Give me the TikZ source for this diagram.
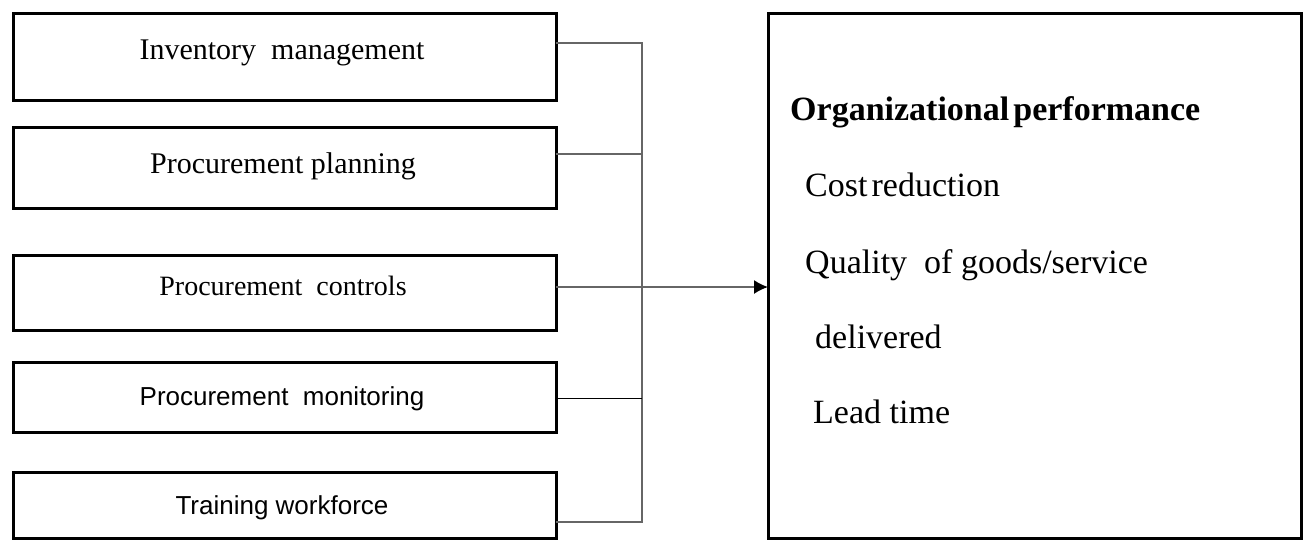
\documentclass[tikz,border=0pt]{standalone}
\usepackage{fontspec}
\setmainfont{Liberation Serif}
\newfontfamily\boxsans{Liberation Sans}
\usetikzlibrary{arrows.meta}
\begin{document}
\begin{tikzpicture}[x=1pt,y=-1pt,
  leftbox/.style={draw=black,line width=3pt,minimum width=543pt,inner sep=0pt,outer sep=0pt},
  bigbox/.style={draw=black,line width=3pt,minimum width=533pt,minimum height=525pt,inner sep=0pt,outer sep=0pt},
  conn/.style={draw=black!60,line width=1.6pt},
  serlab/.style={anchor=base,inner sep=0pt,font=\fontsize{30}{36}\selectfont},
  sanslab/.style={anchor=base,inner sep=0pt,font=\boxsans\fontsize{26}{31}\selectfont},
  perflab/.style={anchor=base west,inner sep=0pt,font=\fontsize{34}{40}\selectfont}]
\useasboundingbox (0,0) rectangle (1304,541);
\fill[white] (0,0) rectangle (1304,541);
% left boxes
\node[leftbox,minimum height=87pt] (b1) at (284.5,56.5) {};
\node[leftbox,minimum height=81pt] (b2) at (284.5,167.5) {};
\node[leftbox,minimum height=75pt] (b3) at (284.5,292.5) {};
\node[leftbox,minimum height=70pt] (b4) at (284.5,397) {};
\node[leftbox,minimum height=66pt] (b5) at (284.5,505) {};
% labels
\node[serlab] (t1) at (282,59) {Inventory\ \ management};
\node[serlab] (t2) at (283,173) {Procurement planning};
\node[serlab,font=\fontsize{28}{34}\selectfont] (t3) at (283,295) {Procurement\ \ controls};
\node[sanslab] (t4) at (282,405) {Procurement\ \ monitoring};
\node[sanslab] (t5) at (282,514) {Training workforce};
% right box
\node[bigbox] (rb) at (1034.5,275.5) {};
\node[perflab,font=\bfseries\fontsize{34}{40}\selectfont] (p0) at (790,120) {Organizational\hspace{0.12em}performance};
\node[perflab] (p1) at (805,196) {Cost\hspace{0.12em}reduction};
\node[perflab] (p2) at (805,273) {Quality\ \ of goods/service};
\node[perflab] (p3) at (815,348) {delivered};
\node[perflab] (p4) at (813,423) {Lead time};
% connectors
\coordinate (jt) at (642,43);
\coordinate (j2) at (642,154);
\coordinate (j4) at (642,398);
\coordinate (jb) at (642,522);
\draw[conn] ([yshift=13.5pt]b1.east) -- (jt) -- (jb) -- ([yshift=-17pt]b5.east);
\draw[conn] ([yshift=13.5pt]b2.east) -- (j2);
\draw[conn,line width=1pt,draw=black] ([yshift=-1pt]b4.east) -- (j4);
\draw[conn,-{Latex[length=14pt,width=14pt,fill=black,color=black]}] ([yshift=5.5pt]b3.east) -- ([yshift=-11.5pt]rb.west);
\end{tikzpicture}
\end{document}
